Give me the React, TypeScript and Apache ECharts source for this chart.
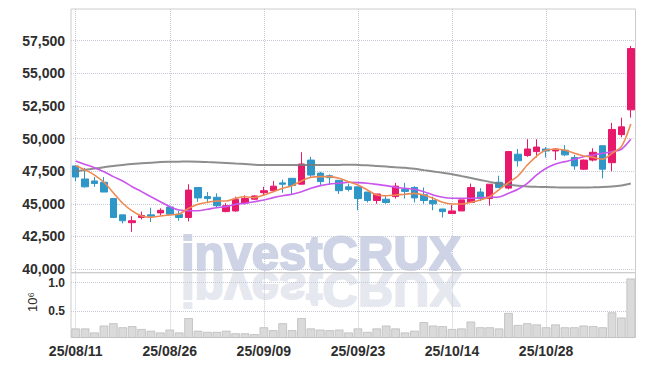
import React, { useEffect, useRef } from 'react';
import * as echarts from 'echarts';

const dates = [
  '25/08/11','25/08/12','25/08/13','25/08/14','25/08/18','25/08/19','25/08/20','25/08/21','25/08/22','25/08/25',
  '25/08/26','25/08/27','25/08/28','25/08/29','25/09/01','25/09/02','25/09/03','25/09/04','25/09/05','25/09/08',
  '25/09/09','25/09/10','25/09/11','25/09/12','25/09/15','25/09/16','25/09/17','25/09/18','25/09/19','25/09/22',
  '25/09/23','25/09/24','25/09/25','25/09/26','25/09/29','25/09/30','25/10/01','25/10/02','25/10/10','25/10/13',
  '25/10/14','25/10/15','25/10/16','25/10/17','25/10/20','25/10/21','25/10/22','25/10/23','25/10/24','25/10/27',
  '25/10/28','25/10/29','25/10/30','25/10/31','25/11/03','25/11/04','25/11/05','25/11/06','25/11/07','25/11/10',
];

// [open, close, low, high]
const ohlc = [
  [47900, 47050, 46750, 47950], [46900, 46300, 46250, 47750], [46750, 46550, 46300, 47050], [46650, 45900, 45900, 47050],
  [45400, 43950, 43900, 45450], [44150, 43700, 43500, 44150], [43550, 43700, 42850, 44050], [43950, 44100, 43800, 44400],
  [44150, 44050, 43600, 44700], [44300, 44500, 44100, 44650], [44750, 44200, 44200, 44850], [44200, 43950, 43700, 44450],
  [43950, 46050, 43650, 46500], [46250, 45450, 45150, 46250], [45550, 45400, 45050, 45900], [45500, 44850, 44750, 45800],
  [44400, 44850, 44350, 45050], [44450, 45350, 44400, 45550], [45050, 45400, 44950, 45650], [45350, 45600, 45300, 45650],
  [45850, 46000, 45600, 46300], [46000, 46350, 45950, 46750], [46600, 46500, 45850, 46850], [46950, 46400, 45750, 46950],
  [46500, 48050, 46500, 48950], [48350, 47200, 47050, 48600], [47350, 46700, 46450, 47450], [47150, 47000, 46450, 47250],
  [46800, 46000, 45750, 46800], [46300, 46100, 45950, 46550], [46300, 45400, 44500, 46300], [45900, 45250, 45100, 45900],
  [45250, 45750, 45000, 45750], [45350, 45100, 45000, 45600], [45550, 46350, 45400, 46600], [46100, 45950, 45400, 46600],
  [46250, 45450, 45100, 46350], [45700, 45250, 45000, 46250], [45250, 45000, 44500, 45550], [44600, 44400, 43950, 44600],
  [44250, 44450, 44250, 44900], [44450, 45300, 44450, 45300], [45100, 46250, 45050, 46550], [45900, 45400, 45200, 46200],
  [45400, 46500, 44850, 46500], [46650, 46250, 46200, 47150], [46200, 49000, 46100, 49050], [48800, 48300, 47850, 49200],
  [48700, 49200, 48600, 49950], [49000, 49350, 48550, 49950], [49200, 49050, 48550, 49350], [49050, 49200, 48350, 49250],
  [49100, 48750, 48650, 49500], [48550, 47900, 47600, 48750], [47650, 48350, 47600, 48400], [48350, 48950, 48250, 49250],
  [49450, 47650, 46950, 49450], [48150, 50700, 47500, 51200], [50300, 50900, 50100, 51600], [52200, 56900, 51600, 57100],
];

const ma5 = [
  47920, 47590, 47200, 46650, 45850, 45040, 44450, 44060, 43960, 44060,
  44140, 44220, 44650, 44960, 45110, 45210, 45210, 45420, 45540, 45470,
  45670, 45930, 46190, 46390, 46750, 47030, 47080, 47080, 46950, 46690,
  46440, 46060, 45670, 45620, 45670, 45730, 45800, 45670, 45420, 45110,
  44980, 44980, 45110, 45290, 45540, 46080, 46620, 47130, 47970, 48660,
  49120, 49180, 49120, 48870, 48660, 48560, 48410, 48870, 49380, 51120,
];

const ma20 = [
  48280, 48020, 47770, 47460, 47080, 46750, 46310, 45930, 45540, 45160,
  44780, 44520, 44470, 44470, 44580, 44700, 44780, 44960, 45040, 45160,
  45290, 45470, 45620, 45730, 45930, 46190, 46390, 46520, 46570, 46650,
  46620, 46570, 46490, 46390, 46260, 46190, 46110, 45930, 45670, 45500,
  45420, 45420, 45420, 45470, 45500, 45520, 45800, 46110, 46570, 47210,
  47720, 48050, 48230, 48410, 48610, 48740, 48870, 48990, 49180, 49940,
];

const ma60 = [
  47500, 47600, 47700, 47800, 47900, 47980, 48050, 48100, 48150, 48200,
  48220, 48230, 48240, 48230, 48200, 48170, 48130, 48080, 48040, 48000,
  47980, 47970, 47970, 47970, 47970, 47970, 47970, 47970, 47980, 48000,
  47980, 47950, 47900, 47850, 47800, 47760, 47680, 47580, 47480, 47370,
  47260, 47120, 46980, 46830, 46680, 46530, 46450, 46380, 46330, 46300,
  46280, 46260, 46250, 46240, 46250, 46260, 46280, 46320, 46400, 46550,
];

// volume in millions of shares
const volume = [
  0.20, 0.20, 0.13, 0.25, 0.29, 0.22, 0.24, 0.19, 0.16, 0.13,
  0.18, 0.13, 0.38, 0.16, 0.14, 0.14, 0.16, 0.115, 0.115, 0.10,
  0.22, 0.17, 0.29, 0.17, 0.38, 0.20, 0.18, 0.17, 0.18, 0.13,
  0.20, 0.14, 0.20, 0.25, 0.20, 0.13, 0.16, 0.31, 0.25, 0.24,
  0.19, 0.20, 0.32, 0.22, 0.22, 0.20, 0.47, 0.26, 0.29, 0.27,
  0.22, 0.27, 0.22, 0.22, 0.25, 0.24, 0.22, 0.48, 0.39, 1.07,
];

const priceTicks = [40000, 42500, 45000, 47500, 50000, 52500, 55000, 57500];
const volumeTicks = [0.5, 1.0];

const LABEL_FONT = '"Liberation Sans Narrow", "Liberation Sans", sans-serif';
const GRID_LINE = '#c6c9d6';
const FRAME = '#cccccc';
const UP = '#e8196b';
const DOWN = '#2f96c8';
const TEXT = '#2e2e2e';

export default function App() {
  const ref = useRef<HTMLDivElement>(null);

  useEffect(() => {
    if (!ref.current) return;
    const chart = echarts.init(ref.current, undefined, { renderer: 'svg' });
    const dotted = { type: 'dotted', color: GRID_LINE, width: 1 };
    const option: any = {
      animation: false,
      backgroundColor: '#ffffff',
      grid: [
        { left: 71, right: 9.5, top: 9, height: 263.7, show: true, borderColor: FRAME, borderWidth: 1 },
        { left: 71, right: 9.5, top: 272.7, height: 64.8, show: true, borderColor: FRAME, borderWidth: 1 },
      ],
      graphic: [
        {
          type: 'text', x: 181, y: 253, z: -10, silent: true,
          style: {
            text: 'investCRUX', font: 'bold 49px "Liberation Sans", sans-serif', fill: '#ced4e6',
            stroke: '#ced4e6', lineWidth: 2, verticalAlign: 'middle', align: 'left',
          },
        },
        {
          type: 'text', x: 181, y: 290, scaleY: -1, z: -10, silent: true,
          style: {
            text: 'investCRUX', font: 'bold 49px "Liberation Sans", sans-serif', fill: '#e6e8ef',
            stroke: '#e6e8ef', lineWidth: 2, verticalAlign: 'middle', align: 'left',
          },
        },
        {
          type: 'text', x: 32, y: 302, rotation: Math.PI / 2, silent: true,
          style: { text: '10⁶', font: '13px "Liberation Sans", sans-serif', fill: TEXT, align: 'center', verticalAlign: 'middle' },
        },
      ],
      xAxis: [
        {
          type: 'category', gridIndex: 0, data: dates, boundaryGap: true,
          axisLine: { show: false }, axisTick: { show: false }, axisLabel: { show: false },
          splitLine: { show: true, interval: 9, alignWithLabel: true, lineStyle: dotted },
        },
        {
          type: 'category', gridIndex: 1, data: dates, boundaryGap: true,
          axisLine: { show: false }, axisTick: { show: false },
          axisLabel: { interval: 9, margin: 6, fontFamily: LABEL_FONT, fontSize: 14, fontWeight: 'bold', color: TEXT },
          splitLine: { show: true, interval: 9, alignWithLabel: true, lineStyle: dotted },
        },
      ],
      yAxis: [
        {
          type: 'value', gridIndex: 0, min: 39716, max: 59932,
          axisLine: { show: false },
          axisTick: { show: false, customValues: priceTicks },
          axisLabel: {
            customValues: priceTicks, margin: 6, fontFamily: LABEL_FONT, fontSize: 14, fontWeight: 'bold',
            color: TEXT,
            formatter: (v: number) => v.toLocaleString('en-US'),
          },
          splitLine: { show: true, lineStyle: dotted },
        },
        {
          type: 'value', gridIndex: 1, min: 0.042, max: 1.171,
          axisLine: { show: false },
          axisTick: { show: false, customValues: volumeTicks },
          axisLabel: {
            customValues: volumeTicks, margin: 6, fontFamily: LABEL_FONT, fontSize: 12, fontWeight: 'bold',
            color: TEXT,
            formatter: (v: number) => v.toFixed(1),
          },
          splitLine: { show: true, lineStyle: dotted },
        },
      ],
      series: [
        {
          type: 'candlestick', xAxisIndex: 0, yAxisIndex: 0, data: ohlc, barWidth: 7,
          itemStyle: { color: UP, color0: DOWN, borderColor: UP, borderColor0: DOWN, borderWidth: 1 },
        },
        {
          type: 'line', xAxisIndex: 0, yAxisIndex: 0, data: ma60, symbol: 'none', smooth: 0.3,
          lineStyle: { color: '#7a7a7a', width: 2, opacity: 0.85 },
        },
        {
          type: 'line', xAxisIndex: 0, yAxisIndex: 0, data: ma20, symbol: 'none', smooth: 0.3,
          lineStyle: { color: '#c955ec', width: 1.6 },
        },
        {
          type: 'line', xAxisIndex: 0, yAxisIndex: 0, data: ma5, symbol: 'none', smooth: 0.3,
          lineStyle: { color: '#ef8a52', width: 1.6 },
        },
        {
          type: 'bar', xAxisIndex: 1, yAxisIndex: 1, data: volume, barCategoryGap: '8%',
          itemStyle: { color: '#dadada', borderColor: '#bdbdbd', borderWidth: 0.8 },
        },
      ],
    };
    chart.setOption(option);
    return () => chart.dispose();
  }, []);

  return <div ref={ref} style={{ width: 645, height: 366, margin: -8 }} />;
}
